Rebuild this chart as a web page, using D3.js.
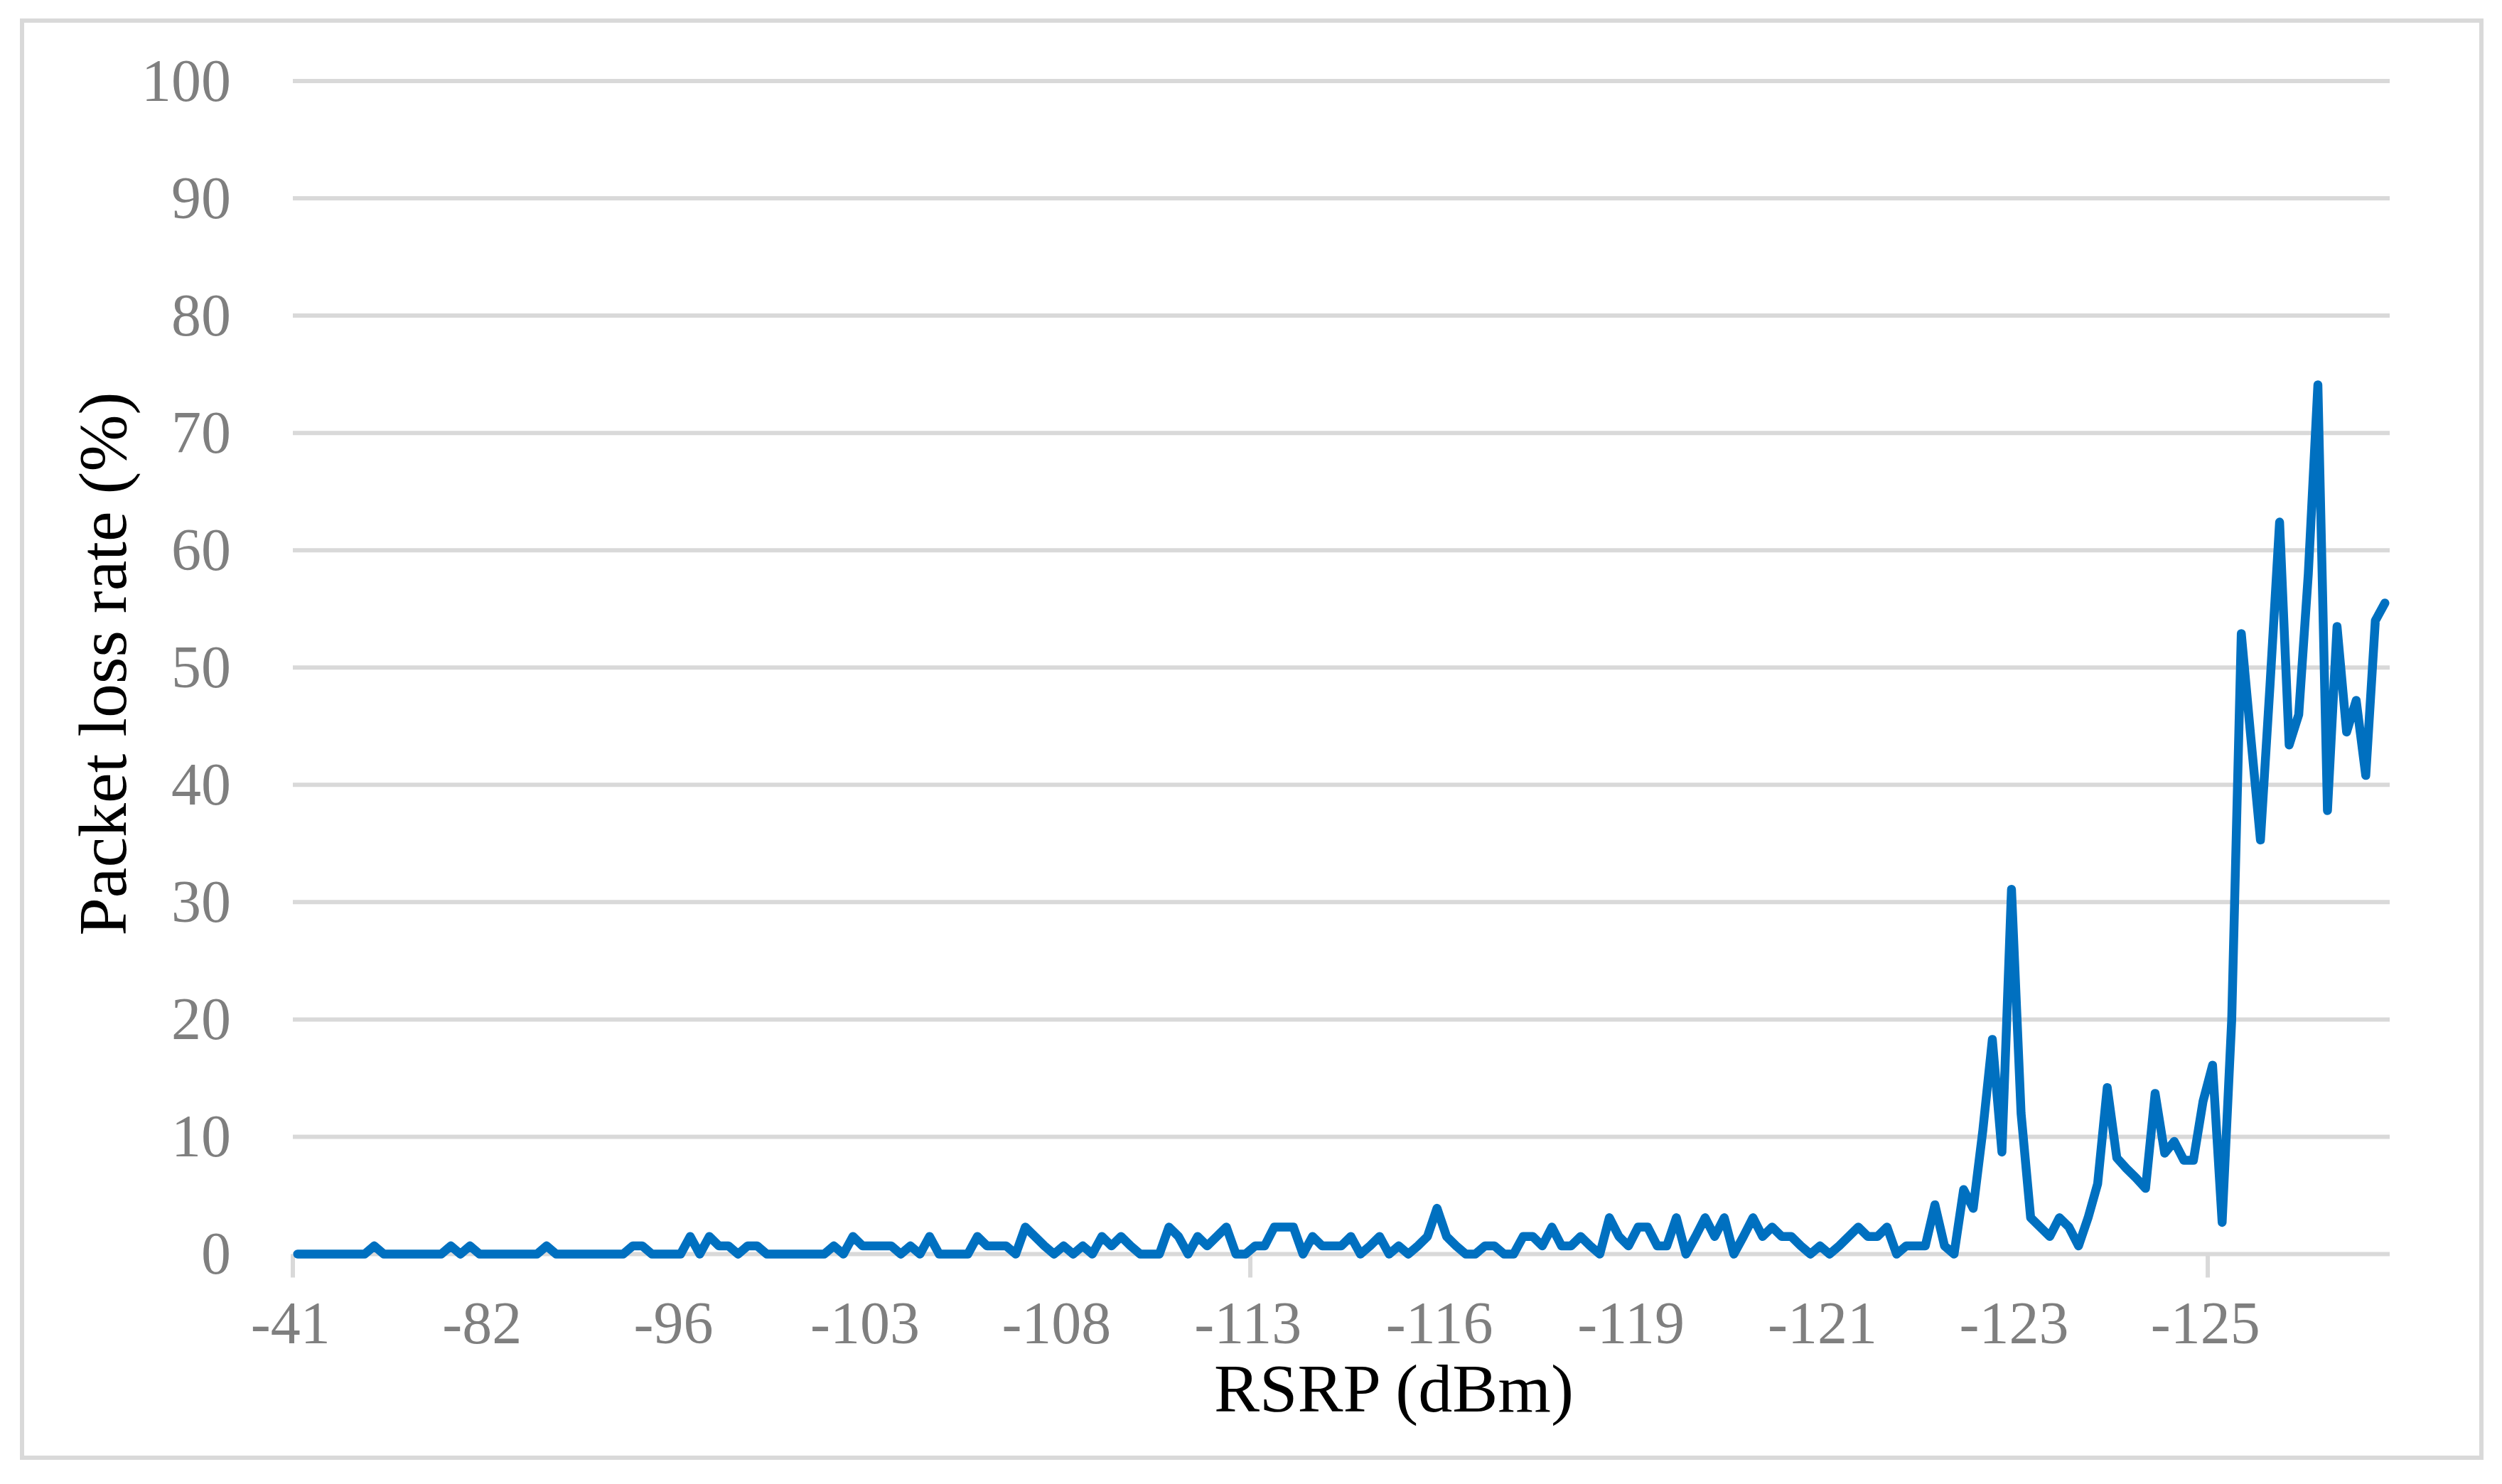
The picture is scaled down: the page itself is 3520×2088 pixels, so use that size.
<!DOCTYPE html>
<html>
<head>
<meta charset="utf-8">
<script src="https://cdn.jsdelivr.net/npm/d3@7/dist/d3.min.js"></script>
<style>
  html, body { margin: 0; padding: 0; background: #ffffff; }
  svg { display: block; }
</style>
</head>
<body>
<svg id="chart" width="3520" height="2088"></svg>
<script>
// ---------------- data ----------------
const xTickLabels = ["-41", "-82", "-96", "-103", "-108", "-113", "-116", "-119", "-121", "-123", "-125"];
const labelEvery = 20;      // one label every 20 categories
const tickEvery = 100;      // one tick mark every 100 categories
const yTicks = [0, 10, 20, 30, 40, 50, 60, 70, 80, 90, 100];

// packet loss rate (%) for each RSRP sample, in axis order
const lossRate = [
  0, 0, 0, 0, 0, 0, 0, 0, 0.7, 0,
  0, 0, 0, 0, 0, 0, 0.7, 0, 0.7, 0,
  0, 0, 0, 0, 0, 0, 0.7, 0, 0, 0,
  0, 0, 0, 0, 0, 0.7, 0.7, 0, 0, 0,
  0, 1.5, 0, 1.5, 0.7, 0.7, 0, 0.7, 0.7, 0,
  0, 0, 0, 0, 0, 0, 0.7, 0, 1.5, 0.7,
  0.7, 0.7, 0.7, 0, 0.7, 0, 1.5, 0, 0, 0,
  0, 1.5, 0.7, 0.7, 0.7, 0, 2.3, 1.5, 0.7, 0,
  0.7, 0, 0.7, 0, 1.5, 0.7, 1.5, 0.7, 0, 0,
  0, 2.3, 1.5, 0, 1.5, 0.7, 1.5, 2.3, 0, 0,
  0.7, 0.7, 2.3, 2.3, 2.3, 0, 1.5, 0.7, 0.7, 0.7,
  1.5, 0, 0.7, 1.5, 0, 0.7, 0, 0.7, 1.5, 3.9,
  1.5, 0.7, 0, 0, 0.7, 0.7, 0, 0, 1.5, 1.5,
  0.7, 2.3, 0.7, 0.7, 1.5, 0.7, 0, 3.1, 1.5, 0.7,
  2.3, 2.3, 0.7, 0.7, 3.1, 0, 1.5, 3.1, 1.5, 3.1,
  0, 1.5, 3.1, 1.5, 2.3, 1.5, 1.5, 0.7, 0, 0.7,
  0, 0.7, 1.5, 2.3, 1.5, 1.5, 2.3, 0, 0.7, 0.7,
  0.7, 4.2, 0.7, 0, 5.5, 3.9, 10.5, 18.3, 8.7, 31.1,
  12, 3.1, 2.3, 1.5, 3.1, 2.3, 0.7, 3.1, 6, 14.2,
  8.2, 7.3, 6.5, 5.6, 13.7, 8.6, 9.6, 8.0, 8.0, 13,
  16.1, 2.7, 20, 52.9, 44, 35.3, 48.5, 62.4, 43.4, 46,
  58, 74.1, 37.8, 53.5, 44.5, 47.2, 40.8, 54, 55.5
];

const xTitle = "RSRP (dBm)";
const yTitle = "Packet loss rate (%)";

// ---------------- layout ----------------
const W = 3520, H = 2088;
const plot = { left: 412, right: 3362, top: 114, bottom: 1764.5 };
const gridColor = "#d9d9d9";
const labelColor = "#7f7f7f";
const lineColor = "#0070c0";
const fontFamily = "'Liberation Serif', 'Times New Roman', serif";

const svg = d3.select("#chart");

svg.append("rect").attr("x", 0).attr("y", 0).attr("width", W).attr("height", H).attr("fill", "#ffffff");

// outer frame
svg.append("rect")
  .attr("x", 31).attr("y", 29).attr("width", 3460).attr("height", 2022)
  .attr("fill", "none").attr("stroke", gridColor).attr("stroke-width", 6);

const idx = d3.range(lossRate.length);
const x = d3.scaleBand().domain(idx).range([plot.left, plot.right]).paddingInner(0).paddingOuter(0);
const xc = i => x(i) + x.bandwidth() / 2;
const y = d3.scaleLinear().domain([0, 100]).range([plot.bottom, plot.top]);

// horizontal gridlines
svg.append("g").selectAll("line").data(yTicks).join("line")
  .attr("x1", plot.left).attr("x2", plot.right)
  .attr("y1", d => y(d)).attr("y2", d => y(d))
  .attr("stroke", gridColor).attr("stroke-width", 6);

// category tick marks (every 100 categories, at category boundaries)
const tickIdx = idx.filter(i => i % tickEvery === 0);
svg.append("g").selectAll("line").data(tickIdx).join("line")
  .attr("x1", d => x(d)).attr("x2", d => x(d))
  .attr("y1", plot.bottom).attr("y2", plot.bottom + 33)
  .attr("stroke", gridColor).attr("stroke-width", 6);

// y axis labels via d3 axis
const yAxis = d3.axisLeft(y).tickValues(yTicks).tickSize(0).tickPadding(0).tickFormat(d3.format("d"));
const gy = svg.append("g").attr("transform", `translate(325,0)`).call(yAxis);
gy.select(".domain").remove();
gy.selectAll("text")
  .attr("x", 0).attr("dy", null).attr("dominant-baseline", null)
  .attr("transform", "translate(0,27)")
  .attr("fill", labelColor)
  .style("font-family", fontFamily).style("font-size", "84px")
  .attr("text-anchor", "end");

// x axis labels via d3 axis (labels on every 20th category)
const labelIdx = xTickLabels.map((_, k) => k * labelEvery);
const xAxis = d3.axisBottom(x).tickValues(labelIdx).tickSize(0).tickPadding(0)
  .tickFormat(d => xTickLabels[d / labelEvery]);
const gx = svg.append("g").attr("transform", `translate(0,${plot.bottom})`).call(xAxis);
gx.select(".domain").remove();
gx.selectAll("text")
  .attr("y", 0).attr("dy", null)
  .attr("transform", "translate(-10,125)")
  .attr("fill", labelColor)
  .style("font-family", fontFamily).style("font-size", "84px")
  .attr("text-anchor", "middle");

// data line
const line = d3.line().x((d, i) => xc(i)).y(d => y(d));
svg.append("path")
  .datum(lossRate)
  .attr("d", line)
  .attr("fill", "none")
  .attr("stroke", lineColor)
  .attr("stroke-width", 12.5)
  .attr("stroke-linejoin", "round")
  .attr("stroke-linecap", "round");

// axis titles
svg.append("text")
  .attr("x", 1961).attr("y", 1986)
  .attr("text-anchor", "middle")
  .attr("fill", "#000000")
  .style("font-family", fontFamily).style("font-size", "96px")
  .text(xTitle);

svg.append("text")
  .attr("transform", "translate(177,934) rotate(-90)")
  .attr("text-anchor", "middle")
  .attr("fill", "#000000")
  .style("font-family", fontFamily).style("font-size", "96px")
  .text(yTitle);
</script>
</body>
</html>
